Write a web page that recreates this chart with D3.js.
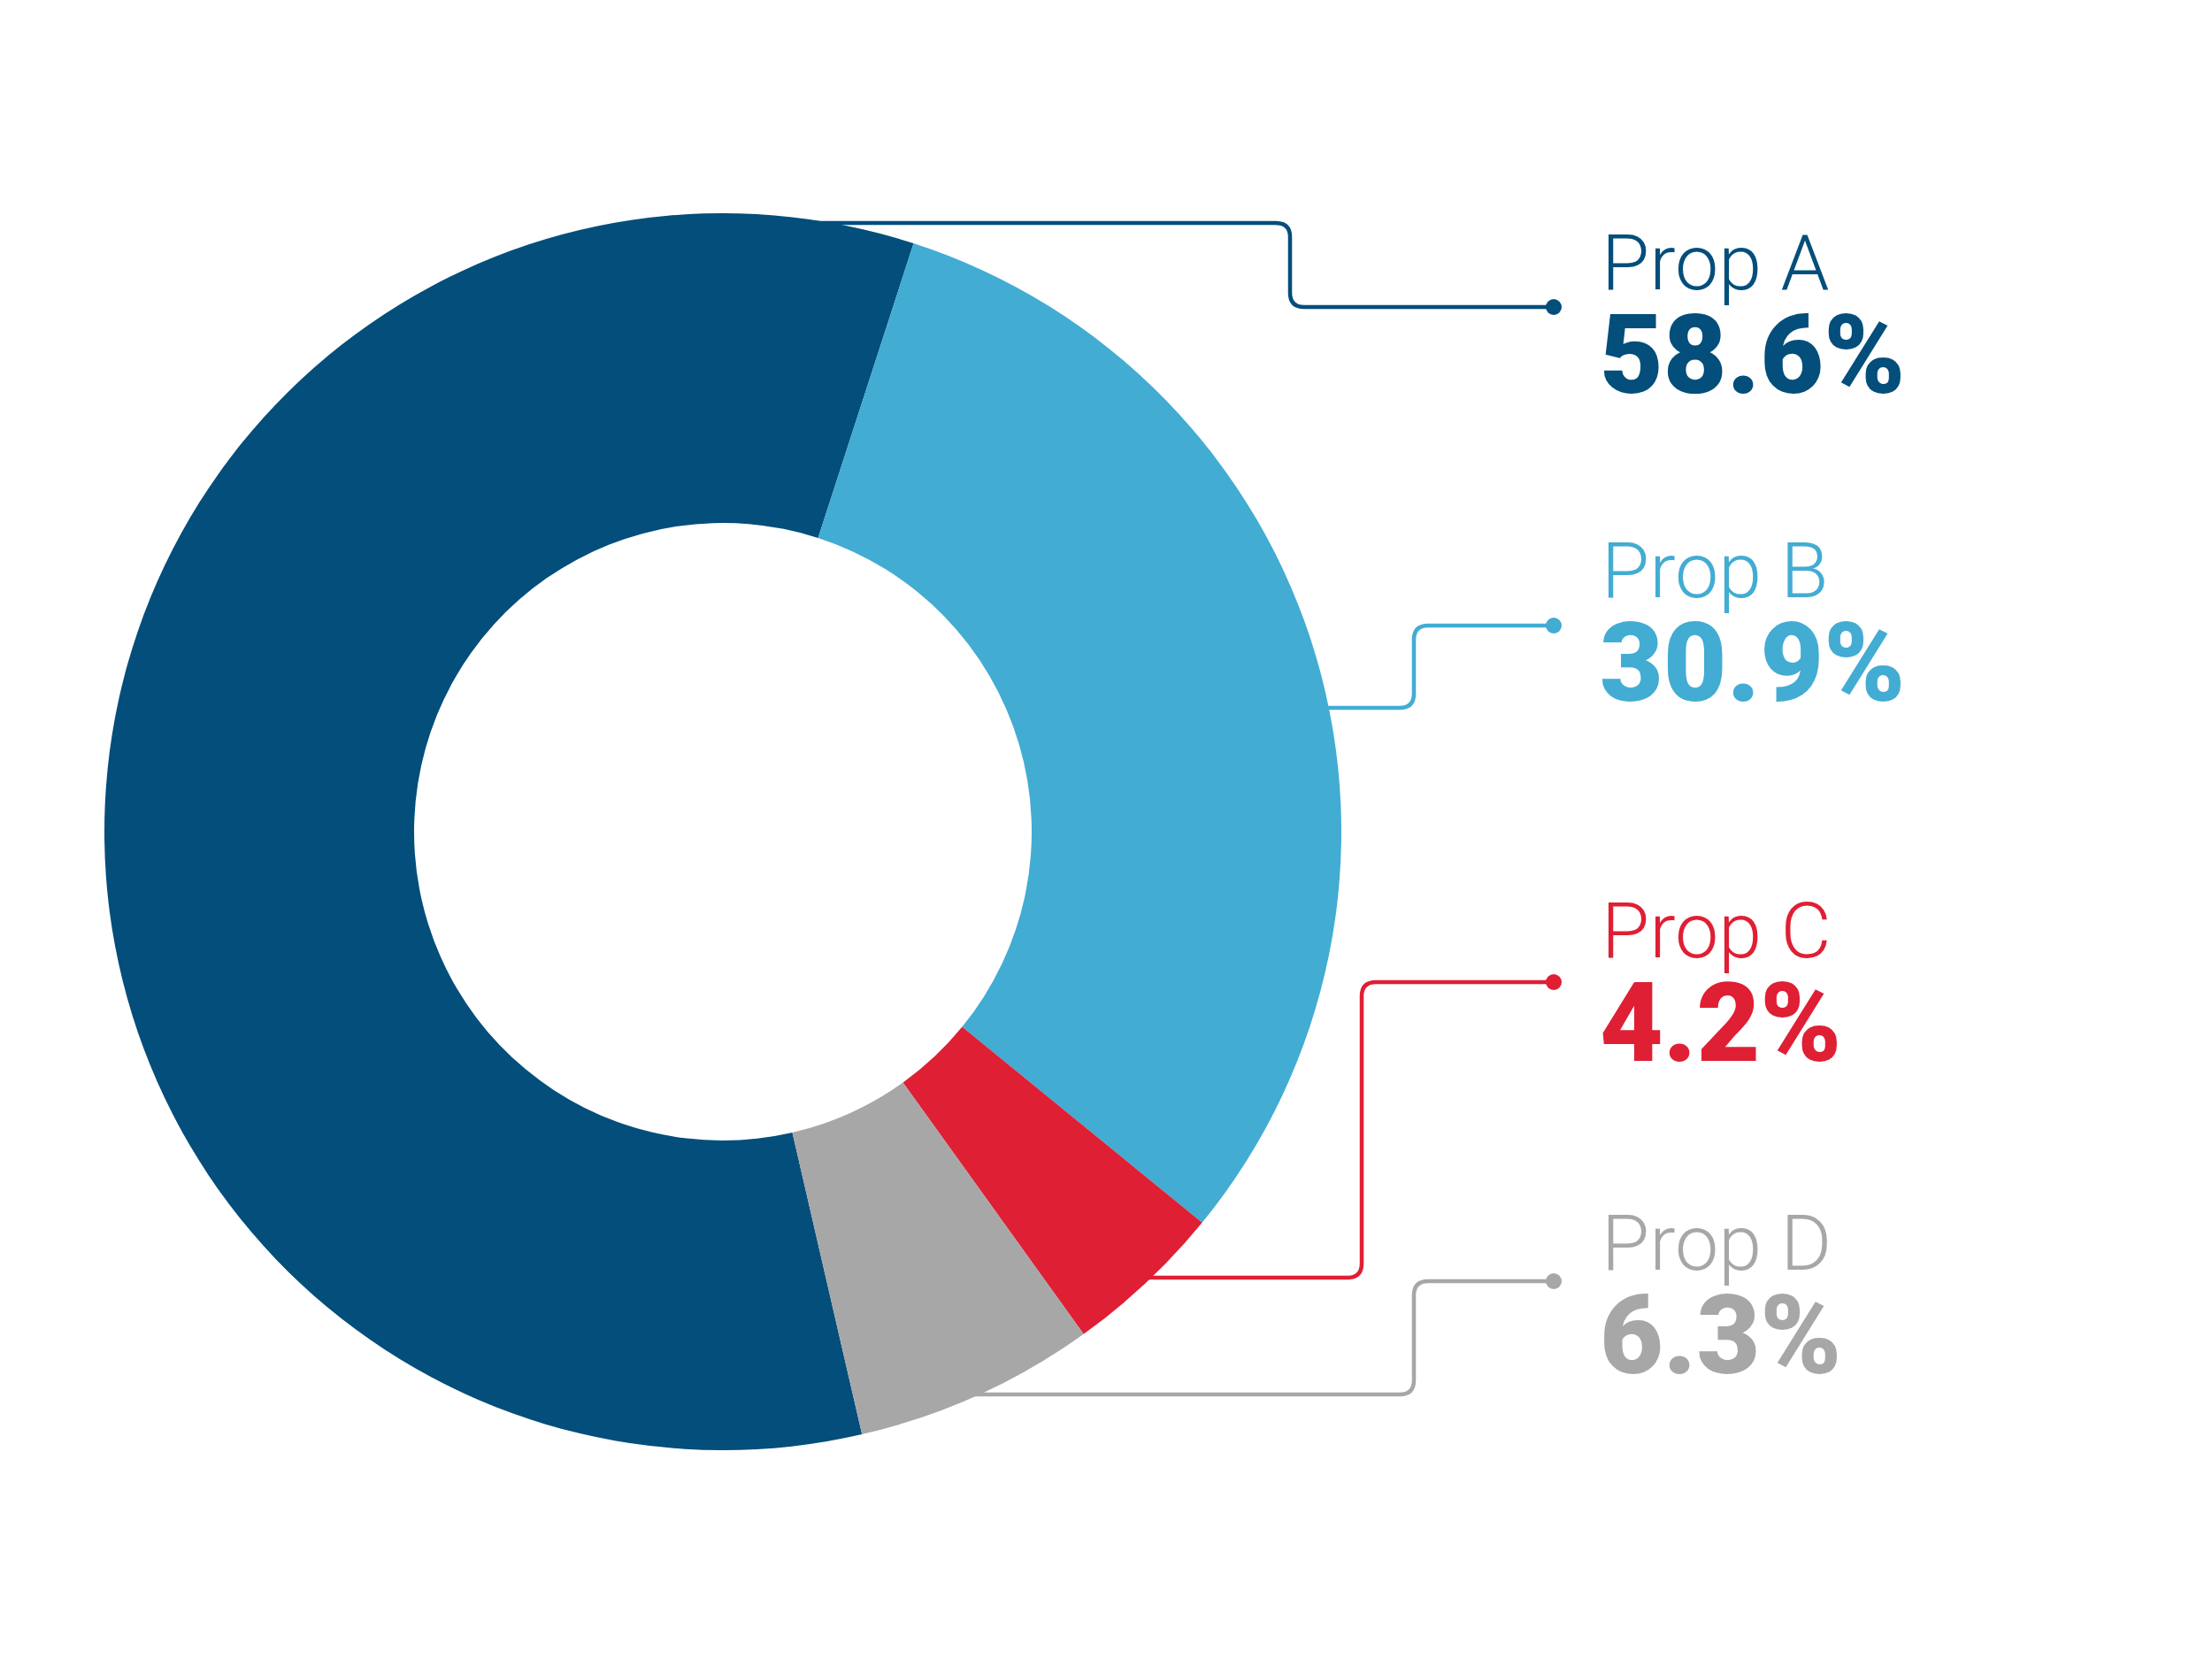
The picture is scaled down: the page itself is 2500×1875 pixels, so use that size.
<!DOCTYPE html>
<html>
<head>
<meta charset="utf-8">
<script src="https://cdn.jsdelivr.net/npm/d3@7"></script>
<style>
  html, body { margin: 0; padding: 0; background: #fff; }
  svg { display: block; }
</style>
</head>
<body>
<div id="chart"></div>
<script>
// data
const categories = ["Prop A", "Prop B", "Prop C", "Prop D"];
const shares = [58.6, 30.9, 4.2, 6.3];
const shareLabels = ["58.6%", "30.9%", "4.2%", "6.3%"];

const colors = ["#034e7b", "#42acd3", "#df1f34", "#a7a7a7"];

// layout (px)
const W = 2500, H = 1875;
const cx = 817, cy = 940;
const outerR = 699, innerR = 349;
const rotation = 167 * Math.PI / 180;

// leader line + label placement per category
const exitY   = [252, 800, 1444, 1576];
const exitInset = [24, 6, 6, 20];
const elbowX  = [1458, 1598, 1539, 1598];
const dotY    = [347, 707, 1110, 1448];
const labelY  = [327, 675, 1082, 1435];
const dotX = 1756;
const textX = 1808;
const valueGap = 117;
const cornerR = 16;

const svg = d3.select("#chart").append("svg")
  .attr("width", W)
  .attr("height", H);

const pie = d3.pie()
  .sort(null)
  .value(d => d)
  .startAngle(rotation)
  .endAngle(rotation + 2 * Math.PI);

const arc = d3.arc()
  .innerRadius(innerR)
  .outerRadius(outerR);

const g = svg.append("g").attr("transform", `translate(${cx},${cy})`);

g.selectAll("path.slice")
  .data(pie(shares))
  .enter()
  .append("path")
  .attr("class", "slice")
  .attr("d", arc)
  .attr("fill", (d, i) => colors[i]);

// leader lines: out of the ring horizontally, elbow, then up/down to the dot
const leaders = categories.map((c, i) => {
  const y0 = exitY[i];
  const dy = y0 - cy;
  const x0 = cx + Math.sqrt(outerR * outerR - dy * dy) - exitInset[i];
  return { i, x0, y0, ex: elbowX[i], y1: dotY[i] };
});

function leaderPath(d) {
  const p = d3.path();
  const dir = d.y1 < d.y0 ? -1 : 1;
  const r = Math.min(cornerR, Math.abs(d.y1 - d.y0) / 2);
  p.moveTo(d.x0, d.y0);
  p.lineTo(d.ex - r, d.y0);
  p.quadraticCurveTo(d.ex, d.y0, d.ex, d.y0 + dir * r);
  p.lineTo(d.ex, d.y1 - dir * r);
  p.quadraticCurveTo(d.ex, d.y1, d.ex + r, d.y1);
  p.lineTo(dotX, d.y1);
  return p.toString();
}

svg.selectAll("path.leader")
  .data(leaders)
  .enter()
  .append("path")
  .attr("class", "leader")
  .attr("d", leaderPath)
  .attr("fill", "none")
  .attr("stroke", d => colors[d.i])
  .attr("stroke-width", 4.5);

svg.selectAll("circle.dot")
  .data(leaders)
  .enter()
  .append("circle")
  .attr("class", "dot")
  .attr("cx", dotX)
  .attr("cy", d => d.y1)
  .attr("r", 9)
  .attr("fill", d => colors[d.i]);

// labels
svg.selectAll("text.name")
  .data(categories)
  .enter()
  .append("text")
  .attr("class", "name")
  .attr("x", textX + 2)
  .attr("y", (d, i) => labelY[i])
  .attr("fill", (d, i) => colors[i])
  .attr("font-family", "Roboto, 'DejaVu Sans Condensed', sans-serif")
  .attr("font-weight", 300)
  .attr("font-size", 88)
  .text(d => d);

svg.selectAll("text.value")
  .data(shareLabels)
  .enter()
  .append("text")
  .attr("class", "value")
  .attr("x", textX)
  .attr("y", (d, i) => labelY[i] + valueGap)
  .attr("fill", (d, i) => colors[i])
  .attr("font-family", "Roboto, 'DejaVu Sans', sans-serif")
  .attr("font-weight", 900)
  .attr("font-size", 124)
  .text(d => d);
</script>
</body>
</html>
